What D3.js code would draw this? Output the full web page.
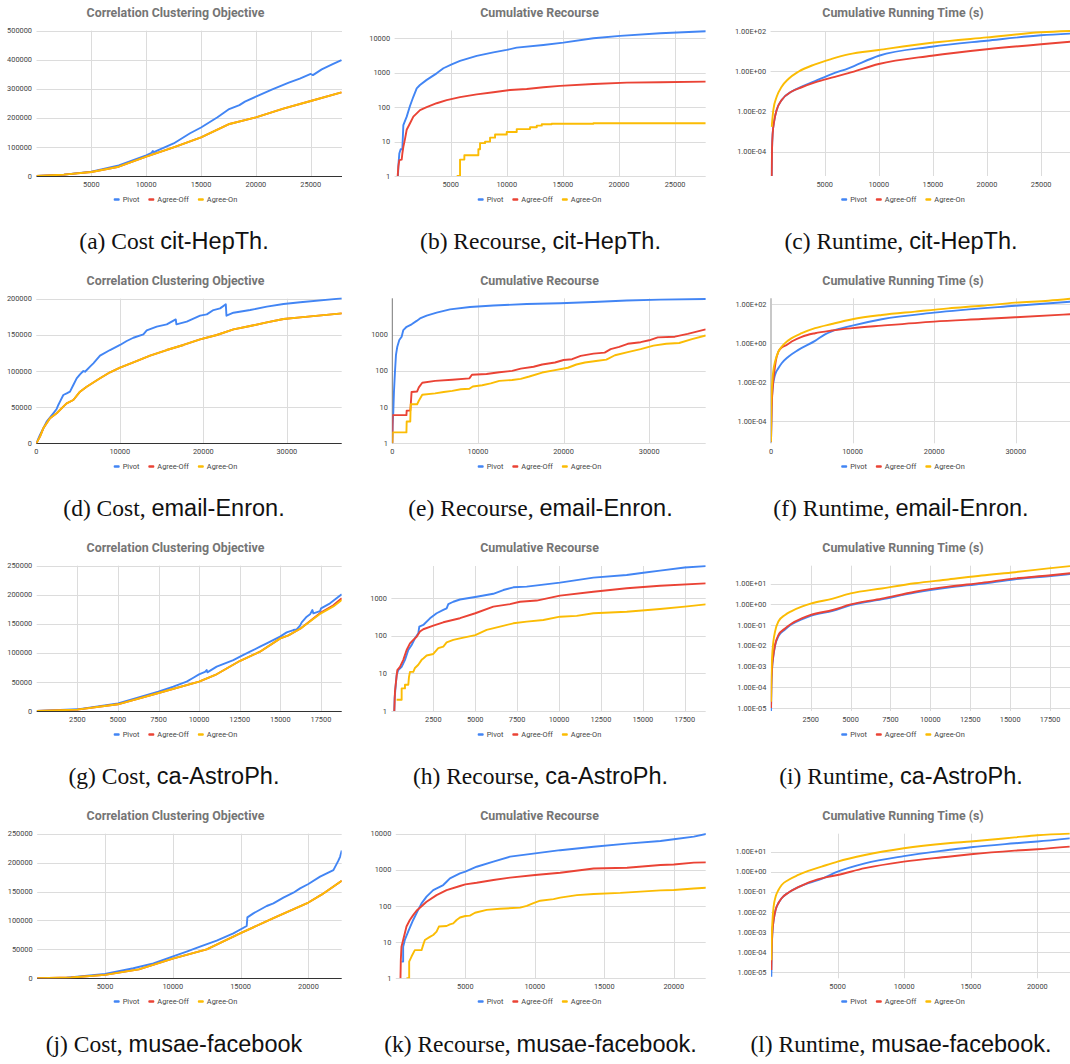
<!DOCTYPE html>
<html>
<head>
<meta charset="utf-8">
<script src="https://cdn.jsdelivr.net/npm/d3@7"></script>
<style>
  body { margin: 0; background: #fff; }
  svg { display: block; }
</style>
</head>
<body>
<svg id="fig" width="1070" height="1064"></svg>
<script>
// series shared by every panel
const seriesNames = ["Pivot", "Agree-Off", "Agree-On"];
const seriesColors = ["#4285f4", "#ea4335", "#fbbc04"];

// ---- cit-HepTh ----
const costHepPivot = [[0,0],[2500,4600],[5000,15000],[7500,36700],[10000,71000],[10500,80000],[10600,86000],[10700,82000],[11000,87000],[12500,112000],[14000,147000],[15000,167000],[16500,202000],[17500,229000],[18500,244000],[19000,256000],[20000,273000],[21500,298000],[23000,321000],[24000,335000],[25000,351000],[25200,347000],[26000,367000],[27000,385000],[27800,399000]];
const costHepOff = [[0,0],[2500,4600],[5000,13800],[7500,32000],[10000,66500],[12500,98600],[15000,133000],[17500,178000],[20000,202000],[22500,232000],[25000,258000],[27800,288000]];
const costHepOn = [[0,0],[2500,4600],[5000,13800],[7500,32000],[10000,66500],[12500,98600],[15000,133000],[17500,178000],[20000,202000],[22500,232000],[25000,258000],[27800,288000]];

const recHepPivot = [[300,1],[350,2.3],[420,4.5],[540,6],[690,6],[780,30],[1080,53],[1370,108],[1670,200],[1970,350],[2260,440],[2860,620],[3750,960],[4350,1350],[5090,1750],[5830,2200],[7320,3100],[8800,3900],[9990,4600],[10880,5350],[13260,6400],[15040,7500],[17720,10000],[20100,11800],[23670,14000],[27740,16000]];
const recHepOff = [[275,1],[334,1.9],[424,2.9],[632,3],[691,4.5],[780,7],[929,12],[1077,22],[1375,34],[1672,53],[1969,66],[2266,82],[2860,100],[3752,130],[4644,160],[5832,195],[7318,235],[8804,270],[10290,316],[11776,336],[13262,377],[14748,415],[17720,470],[20692,515],[23664,530],[27736,550]];
const recHepOn = [[5535,1],[5832,3],[6218,4],[7467,6],[7616,9],[8062,10],[8508,13],[8954,16],[9994,19],[10886,23],[12075,26],[12670,29],[13116,32],[14000,33],[17720,34],[27736,34]];

const timeHepPivot = [[100,6e-6],[131,1.3e-4],[193,8e-4],[347,3.7e-3],[562,1.2e-2],[1024,3.7e-2],[1949,9.8e-2],[2874,0.17],[4107,0.32],[5646,0.72],[7188,1.4],[10000,5.9],[14893,16.6],[19979,33],[25000,61],[27684,74]];
const timeHepOff = [[100,6e-6],[131,1.3e-4],[193,8e-4],[347,3.7e-3],[562,1.2e-2],[1024,3.7e-2],[1949,9.8e-2],[2874,0.16],[4107,0.28],[5646,0.48],[7188,0.8],[10000,2.3],[14893,5.9],[19979,12.3],[25000,22],[27684,29]];
const timeHepOn = [[100,1.7e-3],[254,1.2e-2],[562,5.4e-2],[1024,0.17],[1641,0.41],[2566,0.95],[4107,2.2],[5646,4.1],[7188,6.9],[10000,11.4],[14893,26],[19979,48],[25000,86],[27684,100]];

// ---- email-Enron ----
const costEnronPivot = [[0,0],[439,11500],[839,20700],[1238,30000],[2037,41500],[2437,47500],[2637,53000],[2836,57600],[3236,66800],[3635,69000],[4035,71400],[4434,80600],[4834,89900],[5233,95400],[5633,100000],[5833,99000],[6432,106000],[6831,110600],[7630,121200],[8829,129000],[10027,136000],[10826,141500],[11625,146000],[12824,150700],[13223,156200],[14422,161300],[15620,164500],[16699,171400],[16779,164500],[18017,168200],[19615,176500],[20414,178300],[21213,184300],[22012,186600],[22692,192200],[22772,176500],[23611,180600],[25608,184300],[27605,189000],[29603,192600],[31600,195000],[36594,200400]];
const costEnronOff = [[0,0],[439,9200],[839,20700],[1638,34600],[2437,41500],[3236,50700],[3635,55300],[4434,59900],[5233,71400],[6032,78300],[7630,89900],[8829,98200],[10027,104600],[11625,112000],[13622,121200],[15620,129000],[17618,136000],[19615,143800],[21613,149800],[23611,157600],[25608,162200],[27605,167300],[29603,171900],[31600,174200],[36594,179700]];
const costEnronOn = [[0,0],[439,9200],[839,20700],[1638,34600],[2437,41500],[3236,50700],[3635,55300],[4434,59900],[5233,71400],[6032,78300],[7630,89900],[8829,98200],[10027,104600],[11625,112000],[13622,121200],[15620,129000],[17618,136000],[19615,143800],[21613,149800],[23611,157600],[25608,162200],[27605,167300],[29603,171900],[31600,174200],[36594,179700]];

const recEnronPivot = [[0,1],[39,3.2],[117,7.5],[195,27],[312,95],[429,275],[584,465],[818,710],[1091,880],[1286,1340],[1675,1650],[2260,1930],[2844,2400],[3234,2800],[4013,3350],[5182,4050],[6740,5000],[9078,5800],[11805,6400],[15701,7000],[19597,7400],[23493,8000],[27389,8800],[31285,9300],[36622,9700]];
const recEnronOff = [[0,1],[40,6],[1650,6],[1680,8],[2100,8],[2150,11],[2250,26],[2900,27],[3100,35],[3500,47],[5000,53],[7000,57],[9000,62],[9300,78],[11000,82],[12500,92],[14000,100],[15000,115],[16500,130],[17500,150],[19000,170],[20000,200],[21000,210],[22000,260],[23500,300],[24800,320],[25500,400],[26500,460],[27500,560],[29000,620],[30000,700],[31000,840],[33000,880],[34500,1050],[36600,1400]];
const recEnronOn = [[0,1],[40,2],[1650,2],[1680,4],[2100,4],[2150,12],[2900,12],[3100,15],[3500,22],[5000,24],[6000,26],[7000,28],[8000,31],[9000,32],[9400,37],[10500,40],[11500,45],[12500,53],[14000,56],[15000,60],[16000,70],[17500,90],[19000,105],[20500,122],[21500,150],[22500,170],[24000,190],[25000,205],[26000,270],[27500,330],[29000,400],[30500,500],[32000,560],[33500,590],[35000,750],[36600,950]];

const timeEnronPivot = [[0,9e-6],[82,7e-4],[204,4.9e-3],[490,2.3e-2],[899,5.1e-2],[1308,9.3e-2],[2125,0.2],[3351,0.45],[5395,1.3],[6621,2.8],[7438,4.0],[9972,7.8],[13569,16.6],[19985,36],[29917,81],[36660,131]];
const timeEnronOff = [[0,9e-6],[82,4.7e-4],[204,4.9e-3],[409,3.5e-2],[572,0.11],[899,0.36],[1308,0.59],[1921,0.8],[2534,1.2],[3760,2.1],[5395,3.2],[7438,4.4],[9972,5.8],[13569,7.8],[19985,12.6],[25830,17],[29917,21],[36660,30]];
const timeEnronOn = [[0,9e-6],[41,7e-4],[163,1.1e-2],[327,5.1e-2],[490,0.11],[899,0.36],[1308,0.65],[1717,1.0],[2534,1.8],[3760,3.2],[5395,5.8],[7438,9.5],[9972,16.6],[13569,27.5],[17656,41],[21743,60],[25830,81],[29917,117],[34004,148],[36660,186]];

// ---- ca-AstroPh ----
const costAstroPivot = [[0,0],[2505,2900],[5009,13200],[7489,33300],[8413,41900],[9234,50500],[9645,57300],[9994,63100],[10364,67200],[10466,70500],[10507,66500],[11082,76300],[12109,87700],[12519,93500],[13135,102000],[13751,110700],[14162,116400],[14983,127900],[15393,135300],[15804,139300],[16009,140500],[16215,146800],[16318,152500],[16626,162300],[16831,166300],[16975,173700],[17036,168000],[17447,172000],[17509,176600],[18063,185200],[18782,200700]];
const costAstroOff = [[0,0],[2500,2300],[5000,11500],[7500,31000],[10000,50500],[11000,62000],[12500,86000],[13750,102000],[15000,125000],[15500,130000],[16250,142000],[17500,169500],[18268,182000],[18782,194000]];
const costAstroOn = [[0,0],[2500,2300],[5000,11500],[7500,31000],[10000,50500],[11000,62000],[12500,86000],[13750,102000],[15000,125000],[15500,130000],[16250,142000],[17500,168000],[18268,180000],[18782,191000]];

const recAstroPivot = [[173,1],[193,2.2],[233,3.6],[312,9],[412,12.3],[611,15],[810,23],[1008,42],[1207,57],[1406,86],[1605,117],[1665,176],[1903,195],[2301,293],[2699,400],[3097,490],[3296,540],[3395,700],[3693,810],[4091,930],[5086,1100],[6080,1320],[6677,1660],[7274,1960],[8070,2040],[10058,2620],[12048,3550],[14037,4180],[15031,4800],[16026,5450],[17498,6600],[18751,7200]];
const recAstroOff = [[173,1],[213,3.3],[273,6],[352,12.3],[511,15],[710,23],[909,42],[1108,63],[1307,78],[1506,95],[1705,130],[1903,150],[2500,187],[3097,230],[4091,295],[5006,400],[6080,600],[7075,700],[7672,810],[8667,870],[10058,1180],[12048,1500],[14037,1850],[16026,2160],[18751,2500]];
const recAstroOn = [[312,2],[611,2],[611,4],[810,4],[810,5],[1008,5],[1048,8],[1108,11],[1307,11],[1406,14],[1605,17],[1804,23],[1903,25],[2102,30],[2500,33],[2798,47],[3097,52],[3296,67],[3693,78],[4091,86],[5006,105],[5682,144],[6478,176],[7274,216],[8070,240],[9065,265],[10058,324],[11053,340],[12048,400],[14037,440],[16026,520],[17498,600],[18751,690]];

const timeAstroPivot = [[15,6e-6],[36,1.1e-4],[77,7e-4],[161,3.2e-3],[265,1e-2],[474,2.9e-2],[892,6.2e-2],[1310,0.11],[1936,0.19],[2500,0.28],[3886,0.49],[5006,0.92],[6950,1.75],[9038,3.7],[11127,6.5],[13216,10],[15305,16.5],[17394,23],[18752,29]];
const timeAstroOff = [[15,1e-5],[36,1.3e-4],[77,8e-4],[161,3.6e-3],[265,1.1e-2],[474,3.3e-2],[892,6.9e-2],[1310,0.12],[1936,0.21],[2500,0.31],[3886,0.54],[5006,1.0],[6950,1.9],[9038,4.1],[11127,7.2],[13216,11],[15305,18],[17394,25],[18752,32]];
const timeAstroOn = [[15,2e-5],[36,3.9e-4],[77,2.5e-3],[161,1.6e-2],[265,4.8e-2],[474,0.15],[892,0.31],[1310,0.48],[1936,0.78],[2500,1.1],[3886,1.9],[5006,3.4],[6950,5.9],[9038,10.5],[11127,16],[13216,25],[15305,36],[17394,55],[18752,71]];

// ---- musae-facebook ----
const costFbPivot = [[0,0],[2171,1150],[5000,7500],[7089,17300],[8565,25900],[9966,37400],[11023,46100],[12007,54700],[13237,65100],[14466,77800],[15450,90400],[15499,105400],[15941,112300],[16925,125000],[17417,129600],[18155,139400],[18892,148000],[19384,155500],[19999,163000],[20860,175700],[21843,187000],[22200,203000],[22335,210000],[22458,221000]];
const costFbOff = [[0,0],[2500,1500],[5000,6000],[7500,15500],[10000,34000],[12500,50000],[15000,78000],[17500,105000],[20000,131000],[21000,145000],[22458,168800]];
const costFbOn = [[0,0],[2500,1500],[5000,6000],[7500,15500],[10000,34000],[12500,50000],[15000,78000],[17500,105000],[20000,131000],[21000,145000],[22458,168800]];

const recFbPivot = [[409,2.9],[529,2.9],[529,7.5],[649,11.5],[889,19.5],[1250,41],[1611,78],[1851,118],[2212,181],[2692,276],[3414,380],[3654,470],[3894,580],[4616,800],[5000,890],[5818,1220],[7020,1680],[8222,2320],[10025,2850],[11828,3500],[14232,4350],[16635,5300],[19039,6300],[20000,7000],[21443,8300],[22333,9900]];
const recFbOff = [[337,1],[361,3.2],[409,7.5],[529,11.5],[769,27],[1010,41],[1250,56],[1490,74],[2212,131],[2933,200],[3654,276],[4616,357],[5000,397],[5818,440],[7020,525],[8222,610],[10025,720],[11828,830],[14232,1090],[16635,1140],[19039,1360],[20000,1410],[21443,1580],[22333,1610]];
const recFbOn = [[769,1],[962,1],[962,2.9],[1130,4],[1370,6],[1851,6],[1971,8.4],[2091,11.5],[2452,14],[2692,15.8],[2933,19.5],[3101,27],[3654,28],[3894,31],[4135,33],[4375,41],[4616,48],[5000,53],[5337,54],[5697,65],[6539,78],[7500,84],[8943,90],[9423,101],[9904,120],[10385,140],[11347,155],[11828,170],[13029,200],[14232,215],[16155,230],[17597,250],[19039,270],[20000,276],[21443,305],[22333,320]];

const timeFbPivot = [[25,6e-6],[50,8.7e-5],[100,8.7e-4],[200,4e-3],[350,1.3e-2],[550,2.7e-2],[800,4.8e-2],[1300,9.1e-2],[2050,0.17],[2800,0.27],[3800,0.44],[5000,1.0],[7050,2.6],[9975,6.0],[13300,12],[15000,16.6],[18300,26],[20000,32],[22425,46]];
const timeFbOff = [[25,1.3e-5],[50,1.3e-4],[100,8.7e-4],[200,4e-3],[350,1.3e-2],[550,2.7e-2],[800,4.8e-2],[1300,9.1e-2],[2050,0.17],[2800,0.29],[3800,0.47],[5000,0.69],[7050,1.5],[9975,3.2],[13300,5.6],[15000,7.4],[18300,11.2],[20000,13.2],[22425,17.8]];
const timeFbOn = [[25,4e-5],[50,4e-4],[100,2.8e-3],[200,1.9e-2],[350,5.8e-2],[550,0.12],[800,0.22],[1300,0.39],[2050,0.69],[2800,1.1],[3800,1.8],[5000,3.2],[7050,6.8],[9975,14.8],[13300,26],[15000,32],[18300,51],[20000,65],[22425,79]];

// ---- tick values ----
const xTicksHep = [5000, 10000, 15000, 20000, 25000];
const xTicksEnron = [0, 10000, 20000, 30000];
const xTicksAstro = [2500, 5000, 7500, 10000, 12500, 15000, 17500];
const xTicksFb = [5000, 10000, 15000, 20000];
const yTicksCostHep = [0, 100000, 200000, 300000, 400000, 500000];
const yTicksCostEnron = [0, 50000, 100000, 150000, 200000];
const yTicksCostAstro = [0, 50000, 100000, 150000, 200000, 250000];
const yTicksCostFb = [0, 50000, 100000, 150000, 200000, 250000];
const yTicksRecHep = [1, 10, 100, 1000, 10000];
const yTicksRecEnron = [1, 10, 100, 1000];
const yTicksRecAstro = [1, 10, 100, 1000];
const yTicksRecFb = [1, 10, 100, 1000, 10000];
const yTicksTimeHep = [1e-4, 1e-2, 1, 100];
const yTicksTimeEnron = [1e-4, 1e-2, 1, 100];
const yTicksTimeAstro = [1e-5, 1e-4, 1e-3, 1e-2, 1e-1, 1, 10];
const yTicksTimeFb = [1e-5, 1e-4, 1e-3, 1e-2, 1e-1, 1, 10];

// ---- captions ----
const captionLead = ["(a) Cost", "(b) Recourse,", "(c) Runtime,", "(d) Cost,", "(e) Recourse,", "(f) Runtime,",
                     "(g) Cost,", "(h) Recourse,", "(i) Runtime,", "(j) Cost,", "(k) Recourse,", "(l) Runtime,"];
const captionName = ["cit-HepTh.", "cit-HepTh.", "cit-HepTh.", "email-Enron.", "email-Enron.", "email-Enron.",
                     "ca-AstroPh.", "ca-AstroPh.", "ca-AstroPh.", "musae-facebook", "musae-facebook.", "musae-facebook."];

const titles = {
  cost: "Correlation Clustering Objective",
  rec: "Cumulative Recourse",
  time: "Cumulative Running Time (s)"
};

// layout of the grid
const rowPos = [
  {title: 13, xlab: 184, legend: 199.5, caption: 249},
  {title: 280.5, xlab: 451, legend: 466.5, caption: 516},
  {title: 547.5, xlab: 719, legend: 734.5, caption: 784},
  {title: 815.5, xlab: 986, legend: 1001.5, caption: 1052}
];
const colCenter = [175.5, 539.5, 903];
const captionCenter = [174, 540.5, 901];

const panels = [
  {type: "cost", data: [costHepPivot, costHepOff, costHepOn], xt: xTicksHep, yt: yTicksCostHep,
   x: [36.5, 342], xMax: 27850, y: [176, 30.7], yDom: [0, 500000]},
  {type: "rec", data: [recHepPivot, recHepOff, recHepOn], xt: xTicksHep, yt: yTicksRecHep, stepLast: true,
   x: [394.6, 705.7], xMax: 27730, y: [176, 30.5], yDom: [1, 16850]},
  {type: "time", data: [timeHepPivot, timeHepOff, timeHepOn], xt: xTicksHep, yt: yTicksTimeHep,
   x: [770.6, 1070], xMax: 27670, y: [176, 31], yDom: [6.2e-6, 100]},

  {type: "cost", data: [costEnronPivot, costEnronOff, costEnronOn], xt: xTicksEnron, yt: yTicksCostEnron,
   x: [36.3, 341.7], xMax: 36570, y: [443.3, 298.7], yDom: [0, 200000]},
  {type: "rec", data: [recEnronPivot, recEnronOff, recEnronOn], xt: xTicksEnron, yt: yTicksRecEnron,
   x: [392.3, 705.7], xMax: 36600, y: [443.3, 298.3], yDom: [1, 10100], axisLine: {color: "#777", width: 1}},
  {type: "time", data: [timeEnronPivot, timeEnronOff, timeEnronOn], xt: xTicksEnron, yt: yTicksTimeEnron,
   x: [771, 1070], xMax: 36640, y: [443.3, 298.3], yDom: [7.4e-6, 196], axisLine: {color: "#c8c8c8", width: 2}},

  {type: "cost", data: [costAstroPivot, costAstroOff, costAstroOn], xt: xTicksAstro, yt: yTicksCostAstro,
   x: [36.7, 341.7], xMax: 18780, y: [711, 565.7], yDom: [0, 250000]},
  {type: "rec", data: [recAstroPivot, recAstroOff, recAstroOn], xt: xTicksAstro, yt: yTicksRecAstro,
   x: [391.4, 705.7], xMax: 18750, y: [711, 566], yDom: [1, 7240]},
  {type: "time", data: [timeAstroPivot, timeAstroOff, timeAstroOn], xt: xTicksAstro, yt: yTicksTimeAstro,
   x: [770.8, 1070], xMax: 18750, y: [711, 565.7], yDom: [7.2e-6, 74]},

  {type: "cost", data: [costFbPivot, costFbOff, costFbOn], xt: xTicksFb, yt: yTicksCostFb,
   x: [37.2, 341.7], xMax: 22455, y: [978.3, 833.7], yDom: [0, 250000]},
  {type: "rec", data: [recFbPivot, recFbOff, recFbOn], xt: xTicksFb, yt: yTicksRecFb,
   x: [395.8, 705.7], xMax: 22295, y: [978.3, 833.7], yDom: [1, 10000]},
  {type: "time", data: [timeFbPivot, timeFbOff, timeFbOn], xt: xTicksFb, yt: yTicksTimeFb,
   x: [771, 1070], xMax: 22450, y: [978.3, 833.7], yDom: [5e-6, 78]}
];

const fmtSci = v => v.toExponential(2).toUpperCase()
  .replace(/E([+-])(\d+)$/, (m, s, e) => "E" + s + e.padStart(2, "0"));

const svg = d3.select("#fig");
svg.append("rect").attr("width", 1070).attr("height", 1064).attr("fill", "#fff");

const crisp = v => Math.round(v) + 0.5;

panels.forEach((p, i) => {
  const row = Math.floor(i / 3), col = i % 3;
  const rp = rowPos[row];
  const g = svg.append("g");

  const x = d3.scaleLinear().domain([0, p.xMax]).range(p.x);
  const y = (p.type === "cost" ? d3.scaleLinear() : d3.scaleLog()).domain(p.yDom).range(p.y);
  const left = p.x[0], right = p.x[1], bottom = p.y[0], top = p.y[1];

  // gridlines
  g.append("g").selectAll("line").data(p.yt).join("line")
    .attr("x1", left).attr("x2", right)
    .attr("y1", d => crisp(y(d))).attr("y2", d => crisp(y(d)))
    .attr("stroke", "#dcdcdc").attr("stroke-width", 1);
  g.append("g").selectAll("line").data(p.xt.filter(d => d > 0)).join("line")
    .attr("x1", d => crisp(x(d))).attr("x2", d => crisp(x(d)))
    .attr("y1", top).attr("y2", bottom)
    .attr("stroke", "#dcdcdc").attr("stroke-width", 1);

  if (p.axisLine) {
    g.append("line").attr("x1", left).attr("x2", left).attr("y1", top).attr("y2", bottom)
      .attr("stroke", p.axisLine.color).attr("stroke-width", p.axisLine.width);
  }
  if (p.type === "cost") {
    g.append("line").attr("x1", left).attr("x2", right)
      .attr("y1", crisp(y(0))).attr("y2", crisp(y(0)))
      .attr("stroke", "#333").attr("stroke-width", 1);
  }

  // tick labels
  const yFmt = p.type === "time" ? fmtSci : d3.format("d");
  g.append("g").selectAll("text").data(p.yt).join("text")
    .attr("x", left - 4.5).attr("y", d => y(d))
    .attr("dy", "0.35em").attr("text-anchor", "end")
    .attr("font-family", "Roboto, sans-serif").attr("font-size", 7.4).attr("fill", "#444")
    .text(yFmt);
  g.append("g").selectAll("text").data(p.xt).join("text")
    .attr("x", d => x(d)).attr("y", rp.xlab)
    .attr("dy", "0.35em").attr("text-anchor", "middle")
    .attr("font-family", "Roboto, sans-serif").attr("font-size", 7.4).attr("fill", "#444")
    .text(d3.format("d"));

  // series
  const clipId = "clip" + i;
  svg.append("clipPath").attr("id", clipId).append("rect")
    .attr("x", left).attr("y", top - 1.5).attr("width", right - left).attr("height", bottom - top + 1.5);
  const lines = g.append("g").attr("clip-path", `url(#${clipId})`);
  p.data.forEach((s, k) => {
    let curve = d3.curveLinear;
    if (p.type === "time") curve = d3.curveMonotoneX;
    if (p.stepLast && k === 2) curve = d3.curveStepAfter;
    const line = d3.line().x(d => x(d[0])).y(d => y(d[1])).curve(curve);
    lines.append("path").datum(s).attr("d", line)
      .attr("fill", "none").attr("stroke", seriesColors[k]).attr("stroke-width", 1.9)
      .attr("stroke-linejoin", "round");
  });

  // title
  g.append("text").attr("x", colCenter[col]).attr("y", rp.title).attr("dy", "0.35em")
    .attr("text-anchor", "middle").attr("font-family", "Roboto, sans-serif")
    .attr("font-weight", "bold").attr("font-size", 12.4).attr("fill", "#757575")
    .text(titles[p.type]);

  // legend
  const leg = g.append("g");
  let cx = 0;
  seriesNames.forEach((name, k) => {
    leg.append("rect").attr("x", cx).attr("y", rp.legend - 1.3).attr("width", 6).attr("height", 2.6)
      .attr("rx", 1).attr("fill", seriesColors[k]);
    const t = leg.append("text").attr("x", cx + 9).attr("y", rp.legend).attr("dy", "0.35em")
      .attr("font-family", "Roboto, sans-serif").attr("font-size", 7.4).attr("fill", "#444").text(name);
    cx += 9 + t.node().getComputedTextLength() + 9;
  });
  const legW = cx - 9;
  leg.attr("transform", `translate(${colCenter[col] - legW / 2},0)`);

  // caption
  const cap = svg.append("text").attr("x", captionCenter[col]).attr("y", rp.caption)
    .attr("text-anchor", "middle").attr("font-size", 23.5).attr("fill", "#111");
  cap.append("tspan").attr("font-family", "'Liberation Serif', serif").text(captionLead[i] + " ");
  cap.append("tspan").attr("font-family", "'Liberation Sans', sans-serif").text(captionName[i]);
});
</script>
</body>
</html>
